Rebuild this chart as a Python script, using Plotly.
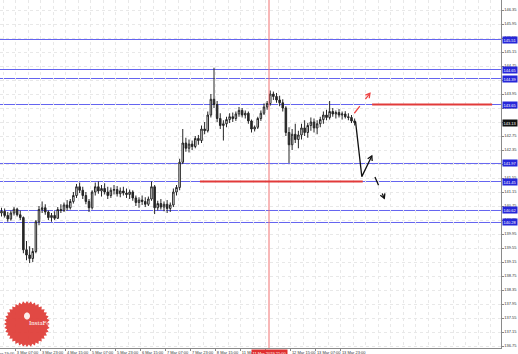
import math
import plotly.graph_objects as go

# ---------------- data ----------------
opens = [140.55, 140.60, 140.48, 140.38, 140.55, 140.66, 140.50, 140.42, 139.50, 139.35,
         139.25, 139.45, 140.30, 140.65, 140.70, 140.58, 140.42, 140.48, 140.40, 140.65,
         140.62, 140.78, 140.70, 140.88, 141.05, 141.30, 141.20, 141.05, 140.88, 140.70,
         141.15, 141.30, 141.18, 141.25, 141.15, 141.05, 141.20, 141.22, 141.10, 141.18,
         141.12, 141.08, 141.15, 140.98, 140.85, 140.92, 140.88, 140.80, 140.95, 141.30,
         140.70, 140.82, 140.72, 140.80, 140.68, 140.78, 141.15, 141.28, 142.00, 142.55,
         142.40, 142.52, 142.45, 142.68, 142.62, 142.95, 142.90, 143.35, 143.80, 143.65,
         143.25, 143.05, 143.10, 143.22, 143.30, 143.25, 143.38, 143.48, 143.35, 143.40,
         143.18, 142.95, 143.00, 143.25, 143.40, 143.58, 143.68, 143.95, 143.88, 143.78,
         143.70, 143.55, 142.85, 142.50, 142.80, 142.65, 142.78, 142.98, 142.85, 143.05,
         143.15, 142.98, 143.10, 143.22, 143.35, 143.28, 143.45, 143.38, 143.42, 143.35,
         143.38, 143.30, 143.28, 143.18]
highs = [140.70, 140.68, 140.58, 140.62, 140.72, 140.70, 140.62, 140.45, 139.75, 139.60,
         139.55, 140.35, 140.75, 140.88, 140.80, 140.62, 140.55, 140.60, 140.72, 140.80,
         140.85, 140.92, 140.95, 141.15, 141.38, 141.42, 141.30, 141.15, 140.95, 141.20,
         141.42, 141.45, 141.35, 141.40, 141.30, 141.28, 141.35, 141.32, 141.28, 141.30,
         141.25, 141.22, 141.20, 141.05, 141.00, 141.05, 141.00, 141.02, 141.45, 141.35,
         140.90, 140.95, 140.88, 140.92, 140.85, 141.25, 141.35, 142.10, 142.95, 142.70,
         142.65, 142.62, 142.75, 142.78, 143.05, 143.15, 143.45, 143.95, 144.70, 143.75,
         143.40, 143.20, 143.30, 143.40, 143.42, 143.45, 143.58, 143.55, 143.48, 143.45,
         143.22, 143.05, 143.30, 143.48, 143.68, 143.75, 144.05, 144.02, 143.98, 143.90,
         143.80, 143.60, 143.00, 142.95, 143.10, 142.90, 143.10, 143.20, 143.12, 143.28,
         143.25, 143.20, 143.30, 143.45, 143.50, 143.75, 143.55, 143.48, 143.52, 143.45,
         143.46, 143.40, 143.35, 143.25]
lows = [140.45, 140.42, 140.30, 140.33, 140.48, 140.45, 140.35, 139.40, 139.20, 139.12,
        139.15, 139.40, 140.20, 140.55, 140.50, 140.35, 140.30, 140.35, 140.38, 140.55,
        140.58, 140.62, 140.65, 140.82, 140.98, 141.12, 140.95, 140.80, 140.58, 140.65,
        141.05, 141.10, 141.02, 141.08, 140.95, 140.98, 141.08, 141.02, 141.00, 141.05,
        140.98, 140.95, 140.90, 140.75, 140.70, 140.78, 140.72, 140.75, 140.90, 140.52,
        140.62, 140.65, 140.60, 140.55, 140.58, 140.72, 141.05, 141.20, 141.95, 142.30,
        142.28, 142.35, 142.40, 142.50, 142.55, 142.80, 142.85, 143.28, 143.55, 143.15,
        142.95, 142.62, 143.00, 143.12, 143.15, 143.18, 143.30, 143.28, 143.25, 143.10,
        142.85, 142.88, 142.95, 143.18, 143.35, 143.50, 143.62, 143.78, 143.70, 143.60,
        143.45, 142.75, 141.98, 142.35, 142.55, 142.40, 142.65, 142.75, 142.70, 142.90,
        142.85, 142.80, 143.00, 143.10, 143.20, 143.22, 143.30, 143.25, 143.28, 143.22,
        143.25, 143.20, 143.12, 143.05]
closes = [140.60, 140.48, 140.38, 140.55, 140.66, 140.50, 140.42, 139.50, 139.35, 139.25,
          139.45, 140.30, 140.65, 140.70, 140.58, 140.42, 140.48, 140.40, 140.65, 140.62,
          140.78, 140.70, 140.88, 141.05, 141.30, 141.20, 141.05, 140.88, 140.70, 141.15,
          141.30, 141.18, 141.25, 141.15, 141.05, 141.20, 141.22, 141.10, 141.18, 141.12,
          141.08, 141.15, 140.98, 140.85, 140.92, 140.88, 140.80, 140.95, 141.30, 140.70,
          140.82, 140.72, 140.80, 140.68, 140.78, 141.15, 141.28, 142.00, 142.55, 142.40,
          142.52, 142.45, 142.68, 142.62, 142.95, 142.90, 143.35, 143.80, 143.65, 143.25,
          143.05, 143.10, 143.22, 143.30, 143.25, 143.38, 143.48, 143.35, 143.40, 143.18,
          142.95, 143.00, 143.25, 143.40, 143.58, 143.68, 143.95, 143.88, 143.78, 143.70,
          143.55, 142.85, 142.50, 142.80, 142.65, 142.78, 142.98, 142.85, 143.05, 143.15,
          142.98, 143.10, 143.22, 143.35, 143.28, 143.45, 143.38, 143.42, 143.35, 143.38,
          143.30, 143.28, 143.18, 143.13]

# visible time labels (the 11 Mar 23:00 label is hidden under the red time box)
x_labels = ["3 Mar 07:00", "3 Mar 23:00", "4 Mar 15:00", "5 Mar 07:00", "5 Mar 23:00",
            "6 Mar 15:00", "7 Mar 07:00", "7 Mar 23:00", "8 Mar 15:00", "11 Mar 07:00",
            "", "12 Mar 15:00", "13 Mar 07:00", "13 Mar 23:00"]
first_cut_label = "2 Mar 19:00"
crosshair_time_label = "11 Mar 2019 21:00"

y_tick_labels = ["136.75", "137.15", "137.55", "137.95", "138.35", "138.75", "139.15",
                 "139.55", "139.95", "140.35", "140.75", "141.15", "141.55", "141.95",
                 "142.35", "142.75", "143.15", "143.55", "143.95", "144.35", "144.75",
                 "145.15", "145.55", "145.95", "146.35"]

levels = [145.507, 144.650, 144.393, 143.650, 141.965, 141.450, 140.622, 140.279]
current_price = 143.13
red_support = 141.450
red_resistance = 143.650

# arrow paths (bar index, price)
solid_arrow_x = [113.3, 115.3, 118.5]
solid_arrow_y = [143.16, 141.59, 142.18]
dash_down_x = [119.5, 122.5]
dash_down_y = [141.58, 140.97]
dash_up_x = [112.9, 117.9]
dash_up_y = [143.40, 143.97]

# ---------------- layout geometry ----------------
W, H = 518, 354
PW, PH = 501, 348           # plot area size in px
XR = [-0.48, 159.84]
YR = [136.693, 146.636]

bars = list(range(len(closes)))

def to_px(xv, yv):
    return ((xv - XR[0]) / (XR[1] - XR[0]) * PW,
            (YR[1] - yv) / (YR[1] - YR[0]) * PH)

def from_px(px, py):
    return (XR[0] + px / PW * (XR[1] - XR[0]),
            YR[1] - py / PH * (YR[1] - YR[0]))

fig = go.Figure()

fig.add_trace(go.Candlestick(
    x=bars, open=opens, high=highs, low=lows, close=closes,
    increasing=dict(line=dict(color="#262626", width=1), fillcolor="#ffffff"),
    decreasing=dict(line=dict(color="#262626", width=1), fillcolor="#262626"),
    whiskerwidth=0, showlegend=False, hoverinfo="skip"))

shapes = []
for lv in levels:
    shapes.append(dict(type="line", xref="paper", x0=0, x1=1, yref="y", y0=lv, y1=lv,
                       line=dict(color="#6464f0", width=1), layer="between"))
shapes.append(dict(type="line", xref="x", x0=85.6, x1=85.6, yref="paper", y0=0, y1=1,
                   line=dict(color="#f07070", width=1)))
shapes.append(dict(type="line", xref="x", x0=63.5, x1=115.6, yref="y",
                   y0=red_support, y1=red_support, line=dict(color="#e23a3a", width=2)))
shapes.append(dict(type="line", xref="x", x0=118.6, x1=157.0, yref="y",
                   y0=red_resistance, y1=red_resistance, line=dict(color="#e23a3a", width=2)))

# badge (InstaForex logo) as star-burst path in paper coords
cx, cy, R1, R2, n = 27, 324, 23, 20.5, 36
pts = []
for k in range(2 * n):
    r = R1 if k % 2 == 0 else R2
    a = math.pi * k / n
    px, py = cx + r * math.cos(a), cy + r * math.sin(a)
    pts.append((px / PW, 1 - py / PH))
path = "M " + " L ".join(f"{p[0]:.5f},{p[1]:.5f}" for p in pts) + " Z"
shapes.append(dict(type="path", xref="paper", yref="paper", path=path,
                   fillcolor="rgba(222,58,52,0.92)", line=dict(width=0), layer="above"))
ic = []
for k in range(24):
    a = 2 * math.pi * k / 24
    ic.append(((cx + 3 * math.cos(a)) / PW, 1 - (316 + 3.5 * math.sin(a)) / PH))
shapes.append(dict(type="path", xref="paper", yref="paper",
                   path="M " + " L ".join(f"{p[0]:.5f},{p[1]:.5f}" for p in ic) + " Z",
                   fillcolor="rgba(255,255,255,0.9)", line=dict(width=0), layer="above"))

def chevron(xs, ys, size=5):
    x1p, y1p = to_px(xs[-2], ys[-2])
    x2p, y2p = to_px(xs[-1], ys[-1])
    ang = math.atan2(y2p - y1p, x2p - x1p)
    res_x, res_y = [], []
    for d in (math.radians(150), math.radians(-150)):
        bx = x2p + size * math.cos(ang + d)
        by = y2p + size * math.sin(ang + d)
        bxv, byv = from_px(bx, by)
        res_x += [bxv, xs[-1]]
        res_y += [byv, ys[-1]]
    return [res_x[0], res_x[1], res_x[2]], [res_y[0], res_y[1], res_y[2]]

for xs, ys, col, dash in [(solid_arrow_x, solid_arrow_y, "#111111", "solid"),
                          (dash_down_x, dash_down_y, "#111111", "dash"),
                          (dash_up_x, dash_up_y, "#ee4444", "dash")]:
    fig.add_trace(go.Scatter(x=xs, y=ys, mode="lines", showlegend=False, hoverinfo="skip",
                             line=dict(color=col, width=1.3, dash=dash)))
    chx, chy = chevron(xs, ys)
    fig.add_trace(go.Scatter(x=chx, y=chy, mode="lines", showlegend=False, hoverinfo="skip",
                             line=dict(color=col, width=1.3)))

annotations = []
afont = dict(family="Liberation Sans, Arial", size=4)
for lv in levels:
    annotations.append(dict(xref="paper", x=1, xanchor="left", xshift=0.5, yref="y", y=lv,
                            text=f"{lv:.2f}", showarrow=False, bgcolor="#2626d9",
                            font=dict(afont, color="white"), borderpad=0.5))
annotations.append(dict(xref="paper", x=1, xanchor="left", xshift=0.5, yref="y", y=current_price,
                        text=f"{current_price:.2f}", showarrow=False, bgcolor="#111111",
                        font=dict(afont, color="white"), borderpad=0.5))
annotations.append(dict(xref="x", x=85.6, xanchor="center", yref="paper", y=0, yanchor="top",
                        yshift=-0.5, text=crosshair_time_label, showarrow=False,
                        bgcolor="#e03030", font=dict(afont, color="white"), borderpad=0.5))
annotations.append(dict(xref="paper", x=-9 / PW, xanchor="left", yref="paper", y=0,
                        yanchor="top", yshift=-1, text=first_cut_label, showarrow=False,
                        font=dict(afont, color="#333333")))
annotations.append(dict(xref="paper", x=cx / PW, yref="paper", y=1 - 329 / PH,
                        text="InstaForex", showarrow=False,
                        font=dict(family="Liberation Serif", size=7, color="white")))

x_tickvals = [4.6 + 8 * k for k in range(len(x_labels))]

fig.update_layout(
    width=W, height=H, margin=dict(l=0, r=W - PW, t=0, b=H - PH, autoexpand=False),
    paper_bgcolor="white", plot_bgcolor="white",
    shapes=shapes, annotations=annotations,
    xaxis=dict(range=XR, rangeslider=dict(visible=False), tickmode="array",
               tickvals=x_tickvals, ticktext=x_labels, ticklabelposition="outside right",
               tickangle=0, automargin=False,
               tickfont=dict(afont, color="#333333"), ticks="outside", ticklen=1.5,
               tickcolor="#888888", showline=True, linecolor="#8a8a8a", linewidth=1,
               showgrid=True, gridcolor="#e8e8e8", griddash="dot", gridwidth=1,
               minor=dict(dtick=4, tick0=0.6, showgrid=True, gridcolor="#e8e8e8",
                          griddash="dot", ticks=""),
               zeroline=False, fixedrange=True),
    yaxis=dict(range=YR, side="right", tickmode="array", automargin=False,
               tickvals=[float(t) for t in y_tick_labels], ticktext=y_tick_labels,
               tickfont=dict(afont, color="#333333"), ticks="outside", ticklen=1.5,
               tickcolor="#888888", showline=True, linecolor="#8a8a8a", linewidth=1,
               showgrid=True, gridcolor="#e8e8e8", griddash="dot", gridwidth=1,
               zeroline=False, fixedrange=True),
)

fig.write_html("out.html")
